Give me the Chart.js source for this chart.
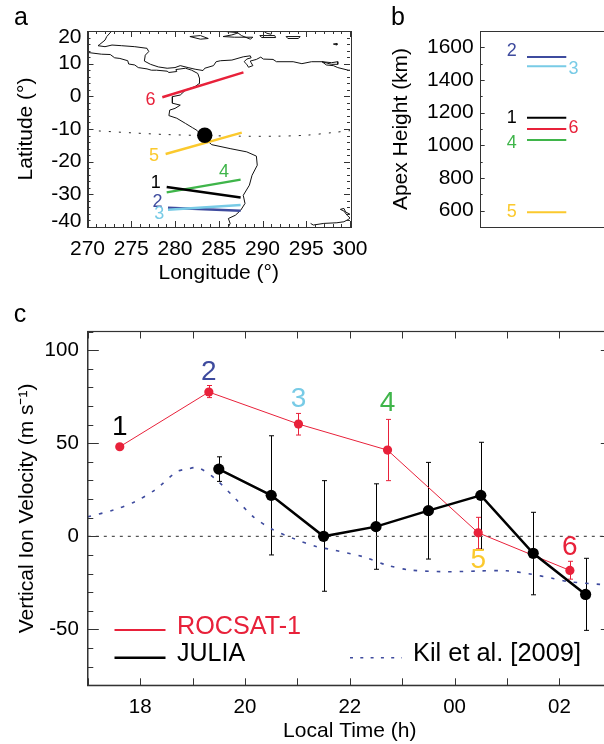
<!DOCTYPE html>
<html>
<head>
<meta charset="utf-8">
<script src="https://cdn.jsdelivr.net/npm/chart.js@4/dist/chart.umd.min.js"></script>
<style>
  html, body { margin: 0; padding: 0; background: #fff; overflow: hidden; width: 604px; height: 744px; }
  canvas { position: absolute; display: block; }
</style>
</head>
<body>
<canvas id="mapChart" width="375" height="290" style="left:0;top:0"></canvas>
<canvas id="apexChart" width="240" height="290" style="left:385px;top:0"></canvas>
<canvas id="velChart" width="640" height="455" style="left:0;top:295px"></canvas>
<script>
// Panel a: coastline as [lon, lat]
const coastPacific = [[270.1,13.4],[271.6,12.9],[272.6,12.8],[273.1,11.8],[273.7,11.6],[274.6,10.9],[274.7,9.9],[275.4,9.6],[275.8,8.8],[276.8,8.4],[277.3,8.0],[277.9,8.0],[279.1,7.7],[279.3,7.3],[280.2,7.6],[280.1,8.2],[281.2,8.6],[281.9,8.0],[282.6,7.0],[282.8,5.5],[282.8,4.0],[282.3,3.0],[281.2,1.9],[280.6,0.4],[279.7,-0.1],[279.7,-2.1],[280.6,-2.7],[280.0,-3.7],[279.4,-4.2],[279.3,-5.9],[280.2,-6.7],[281.2,-8.3],[282.0,-9.6],[282.5,-10.4],[283.4,-12.9],[284.2,-14.8],[286.3,-16.0],[288.2,-17.0],[289.3,-18.3],[289.4,-21.1],[288.8,-24.2],[288.5,-27.2],[287.8,-30.3],[288.0,-32.8],[287.5,-34.9],[286.9,-36.4],[286.1,-37.4],[286.3,-38.9],[286.1,-40]];
const coastCaribbean = [[272.7,19.8],[272.2,18.3],[272.0,17.2],[271.4,15.9],[271.2,15.5],[272.0,15.2],[272.8,15.7],[273.9,15.5],[275.4,15.2],[276.8,14.7],[277.0,13.7],[276.6,12.6],[276.5,10.8],[277.2,9.8],[278.1,9.0],[279.1,8.6],[280.0,8.8],[280.6,9.4],[281.5,8.8],[282.3,8.3],[283.2,7.9],[283.4,8.6],[284.4,9.4],[284.7,10.6],[285.2,10.9],[286.5,11.1],[287.8,12.1],[288.6,12.4],[288.7,11.8],[288.2,11.4],[287.9,10.6],[288.2,9.8],[288.4,8.9],[288.9,9.4],[288.7,10.3],[288.6,10.8],[289.3,11.3],[289.8,12.0],[290.1,11.4],[291.2,11.3],[291.6,10.6],[293.5,10.6],[294.5,10.0],[295.6,10.6],[296.8,10.6],[297.3,9.6],[298.1,9.4],[298.6,8.8],[299.8,8.0],[300,8.0]];
const coastSouth = [[295.5,-38.9],[295.8,-39.4],[297,-38.9],[298.5,-38.7],[299.3,-38.4],[299.8,-37.7],[300,-37.2]];
const coastInlet = [[300,-36.1],[299.5,-35.4],[299.3,-34.3],[298.9,-34.6],[299.3,-35.1],[299.7,-36.5],[300,-37.2]];
const islands = [
  [[281.7,18.3],[282.9,18.6],[283.8,17.7],[282.9,17.5],[281.7,18.3]],
  [[285.5,18.3],[286.5,18.8],[287.2,19.4],[287.6,18.6],[288.6,17.5],[288.9,18.1],[286.8,18.1],[285.5,18.3]],
  [[289.7,18.6],[291.4,18.6],[291.5,18.0],[289.9,18.0],[289.7,18.6]],
  [[285.9,19.8],[287.2,19.5]],
  [[288.9,20],[290.1,20],[290.5,19.3],[291,19.0]],
  [[292.7,18.3],[294.3,18.3],[294.1,17.7],[292.9,17.7],[292.7,18.3]],
  [[298.1,16],[298.5,16.2],[298.5,15.7],[298.1,16]],
  [[296.8,10.6],[297.9,10.3],[298.6,10.6],[298.6,9.8],[297.9,9.8],[296.8,10.6]]
];
const dipEquator = [[271.3,-10.6],[275.2,-11.2],[279,-11.7],[283.3,-12.0],[287.4,-12.2],[291.6,-12.2],[295,-11.9],[298,-11.1],[300,-10.5]];
const julia = [283.4, -11.9];

// Field line segments 1..6
const orbitLabels = ["1", "2", "3", "4", "5", "6"];
const segLonStart = [279.05, 279.2, 279.2, 279.05, 278.93, 278.55];
const segLonEnd = [287.5, 287.5, 287.5, 287.5, 287.63, 287.82];
const segLatStart = [-27.75, -34.1, -34.7, -29.4, -17.65, -0.3];
const segLatEnd = [-31.0, -35.0, -33.3, -25.5, -11.1, 7.35];

// Panel b
const apexHeights = [1169, 1541, 1484, 1032, 590, 1100];
const apexTicks = [600, 800, 1000, 1200, 1400, 1600];

// Panel c
const rocsatTime = [17.61, 19.31, 21.02, 22.72, 24.45, 26.2];
const rocsatVel = [48.1, 77.5, 60.3, 46.3, 1.9, -18.3];
const rocsatHi = [48.1, 81, 66, 62.8, 10.2, -13.4];
const rocsatLo = [48.1, 74.5, 54.4, 29.9, -6.7, -23];
const juliaTime = [19.5, 20.5, 21.5, 22.5, 23.5, 24.5, 25.5, 26.5];
const juliaVel = [36.1, 22, 0, 5.2, 13.8, 22, -9.1, -31.2];
const juliaHi = [42.7, 54, 29.9, 28.2, 39.7, 50.5, 12.9, -11.8];
const juliaLo = [29.5, -10, -29.5, -17.7, -12.2, -7, -31.4, -50.5];
const kilTime = [17, 17.49, 17.9, 18.28, 18.7, 18.89, 19.11, 19.46, 19.81, 20.16, 20.51, 20.92, 21.37, 21.59, 22.26, 22.7, 23.15, 23.85, 24.48, 24.99, 25.44, 25.88, 26.2, 26.77, 27];
const kilVel = [10.5, 14.1, 18.6, 24.9, 34.7, 36.1, 36.8, 30.2, 20.4, 10.5, 3.9, -1.1, -5.6, -6.8, -11, -15.4, -18.1, -19, -18.6, -18.5, -20.2, -22.6, -24.4, -25.8, -26];
const hourLabels = { 18: "18", 20: "20", 22: "22", 24: "00", 26: "02" };
const velTicks = [-50, 0, 50, 100];

const FONT = "'Liberation Sans', Arial, sans-serif";
const RED = "#e8213a", NAVY = "#3e4b9e", SKY = "#78cbe6", GREEN = "#3fb54a", GOLD = "#fbc92d";
const orbitColors = ["#000000", NAVY, SKY, GREEN, GOLD, RED];
const AXIS = "#333333";

const toXY = pts => pts.map(p => ({ x: p[0], y: p[1] }));
const range = (a, b, step) => { const out = []; for (let v = a; v <= b; v += step) out.push(v); return out; };

// Number placement next to the marks, in each panel's data units
const mapNumLon = [277.8, 278, 278.2, 285.6, 277.6, 277.2];
const mapNumLat = [-26.4, -32.3, -36.1, -23.2, -18.3, -1.2];
const apexNumX = [2.21, 2.21, 6.61, 2.21, 2.21, 6.61];
const apexNumY = [1165, 1579, 1467, 1014, 590, 1105];
const velNumX = [17.61, 19.31, 21.02, 22.72, 24.45, 26.2];
const velNumY = [58.5, 87.9, 73.6, 71.4, -12.7, -5.9];

function text(ctx, str, x, y, size, color, align) {
  ctx.save();
  ctx.font = size + "px " + FONT;
  ctx.fillStyle = color || "#000";
  ctx.textAlign = align || "center";
  ctx.textBaseline = "middle";
  ctx.fillText(str, x, y);
  ctx.restore();
}

// Tick marks point inward, so they are stroked here from the scales
function innerTicks(chart, axis, values, len, sides) {
  const ctx = chart.ctx, area = chart.chartArea, scale = chart.scales[axis];
  ctx.save();
  ctx.strokeStyle = AXIS;
  ctx.lineWidth = 1;
  ctx.beginPath();
  values.forEach(v => {
    const p = Math.round(scale.getPixelForValue(v)) + 0.5;
    sides.forEach(side => {
      if (side === "bottom") { ctx.moveTo(p, area.bottom); ctx.lineTo(p, area.bottom - len); }
      if (side === "top") { ctx.moveTo(p, area.top); ctx.lineTo(p, area.top + len); }
      if (side === "left") { ctx.moveTo(area.left, p); ctx.lineTo(area.left + len, p); }
      if (side === "right") { ctx.moveTo(area.right, p); ctx.lineTo(area.right - len, p); }
    });
  });
  ctx.stroke();
  ctx.restore();
}

function errorBars(chart, times, hi, lo, color) {
  const ctx = chart.ctx, sx = chart.scales.x, sy = chart.scales.y;
  ctx.save();
  ctx.strokeStyle = color;
  ctx.lineWidth = 1;
  ctx.beginPath();
  times.forEach((t, i) => {
    if (hi[i] === lo[i]) return;
    const x = Math.round(sx.getPixelForValue(t)) + 0.5;
    const top = sy.getPixelForValue(hi[i]), bot = sy.getPixelForValue(lo[i]);
    ctx.moveTo(x, top); ctx.lineTo(x, bot);
    ctx.moveTo(x - 2.5, top); ctx.lineTo(x + 2.5, top);
    ctx.moveTo(x - 2.5, bot); ctx.lineTo(x + 2.5, bot);
  });
  ctx.stroke();
  ctx.restore();
}

const thin = { display: false };

// ---- Panel a
const mapSets = [];
mapSets.push({ data: [{ x: julia[0], y: julia[1] }], showLine: false, pointRadius: 7.7, pointBackgroundColor: "#000", pointBorderWidth: 0 });
[5, 4, 0, 3, 2, 1].forEach(i => {
  mapSets.push({
    data: [{ x: segLonStart[i], y: segLatStart[i] }, { x: segLonEnd[i], y: segLatEnd[i] }],
    borderColor: orbitColors[i], borderWidth: 2.5, pointRadius: 0
  });
});
mapSets.push({ data: toXY(dipEquator), borderColor: "#222", borderWidth: 1, borderDash: [2, 8], pointRadius: 0, tension: 0.3 });
[coastPacific, coastCaribbean, coastSouth, coastInlet].concat(islands).forEach(line => {
  mapSets.push({ data: toXY(line), borderColor: "#111", borderWidth: 1, pointRadius: 0 });
});

new Chart(document.getElementById("mapChart"), {
  type: "scatter",
  data: { datasets: mapSets.map(d => Object.assign({ showLine: true }, d)) },
  options: {
    responsive: false,
    animation: false,
    layout: { padding: { top: 31, right: 25 } },
    plugins: { legend: thin, tooltip: { enabled: false } },
    scales: {
      x: {
        type: "linear", min: 270, max: 300,
        grid: { display: false },
        border: { color: AXIS, width: 1 },
        ticks: { stepSize: 5, maxRotation: 0, padding: 2, color: "#000", font: { size: 21, family: FONT } },
        title: { display: true, text: "Longitude (°)", color: "#000", padding: 4.2, font: { size: 21, family: FONT } },
        afterFit: s => { s.height = 63; }
      },
      y: {
        type: "linear", min: -40, max: 20,
        grid: { display: false },
        border: { color: AXIS, width: 1 },
        ticks: { stepSize: 10, display: false },
        title: { display: true, text: "Latitude (°)", color: "#000", padding: 13.4, font: { size: 21, family: FONT } },
        afterFit: s => { s.width = 87.5; }
      }
    }
  },
  plugins: [{
    id: "mapExtras",
    afterDraw(chart) {
      const ctx = chart.ctx, a = chart.chartArea, sx = chart.scales.x, sy = chart.scales.y;
      ctx.save();
      ctx.strokeStyle = AXIS;
      ctx.lineWidth = 1;
      ctx.strokeRect(Math.round(a.left) + 0.5, Math.round(a.top) + 0.5, Math.round(a.right - a.left), Math.round(a.bottom - a.top));
      ctx.restore();
      innerTicks(chart, "x", range(270, 300, 1), 3, ["top", "bottom"]);
      innerTicks(chart, "x", range(270, 300, 5), 6, ["top", "bottom"]);
      innerTicks(chart, "y", range(-40, 20, 2), 3, ["left", "right"]);
      innerTicks(chart, "y", range(-40, 20, 10), 6, ["left", "right"]);
      // end labels sit inside the frame height, as in the original axis
      range(-40, 20, 10).forEach(v => {
        const nudge = v === 20 ? 6 : v === -40 ? -6 : 0;
        text(ctx, String(v), a.left - 6, sy.getPixelForValue(v) + nudge, 21, "#000", "right");
      });
      orbitLabels.forEach((n, i) => {
        text(ctx, n, sx.getPixelForValue(mapNumLon[i]), sy.getPixelForValue(mapNumLat[i]), 18, orbitColors[i]);
      });
      text(ctx, "a", 21, 18, 25, "#000");
    }
  }]
});

// ---- Panel b
new Chart(document.getElementById("apexChart"), {
  type: "scatter",
  data: {
    datasets: apexHeights.map((h, i) => ({
      showLine: true,
      data: [{ x: 3.3, y: h }, { x: 6.1, y: h }],
      borderColor: orbitColors[i], borderWidth: 2, pointRadius: 0
    }))
  },
  options: {
    responsive: false,
    animation: false,
    layout: { padding: { top: 31, right: 4 } },
    plugins: { legend: thin, tooltip: { enabled: false } },
    scales: {
      x: {
        type: "linear", min: 0, max: 10,
        grid: { display: false },
        border: { color: AXIS, width: 1 },
        ticks: { display: false },
        afterFit: s => { s.height = 63; }
      },
      y: {
        type: "linear", min: 500, max: 1700,
        grid: { display: false },
        border: { color: AXIS, width: 1 },
        afterBuildTicks: s => { s.ticks = apexTicks.map(v => ({ value: v })); },
        ticks: { padding: -1, color: "#000", font: { size: 21, family: FONT }, callback: v => String(v) },
        title: { display: true, text: "Apex Height (km)", color: "#000", padding: 4, font: { size: 21, family: FONT } },
        afterFit: s => { s.width = 95.7; }
      }
    }
  },
  plugins: [{
    id: "apexExtras",
    afterDraw(chart) {
      const ctx = chart.ctx, a = chart.chartArea, sx = chart.scales.x, sy = chart.scales.y;
      ctx.save();
      ctx.strokeStyle = AXIS;
      ctx.lineWidth = 1;
      ctx.beginPath();
      ctx.moveTo(a.left, Math.round(a.top) + 0.5);
      ctx.lineTo(a.right, Math.round(a.top) + 0.5);
      ctx.stroke();
      ctx.restore();
      innerTicks(chart, "y", range(500, 1700, 100), 2, ["left"]);
      innerTicks(chart, "y", apexTicks, 4, ["left"]);
      orbitLabels.forEach((n, i) => {
        text(ctx, n, sx.getPixelForValue(apexNumX[i]), sy.getPixelForValue(apexNumY[i]), 18, orbitColors[i]);
      });
      text(ctx, "b", 13, 18, 25, "#000");
    }
  }]
});

// ---- Panel c
new Chart(document.getElementById("velChart"), {
  type: "scatter",
  data: {
    datasets: [
      { label: "JULIA", showLine: true, data: juliaTime.map((t, i) => ({ x: t, y: juliaVel[i] })), borderColor: "#000", borderWidth: 2.5, pointRadius: 5.6, pointBackgroundColor: "#000", pointBorderWidth: 0 },
      { label: "ROCSAT-1", showLine: true, data: rocsatTime.map((t, i) => ({ x: t, y: rocsatVel[i] })), borderColor: RED, borderWidth: 1, pointRadius: 4.6, pointBackgroundColor: RED, pointBorderWidth: 0 },
      { label: "Kil et al. [2009]", showLine: true, data: kilTime.map((t, i) => ({ x: t, y: kilVel[i] })), borderColor: NAVY, borderWidth: 1.6, borderDash: [3.5, 8], pointRadius: 0, tension: 0.3 },
      { label: "zero", showLine: true, data: [{ x: 17, y: 0 }, { x: 27, y: 0 }], borderColor: "#555", borderWidth: 1.2, borderDash: [3, 5], pointRadius: 0 }
    ]
  },
  options: {
    responsive: false,
    animation: false,
    layout: { padding: { top: 36.5, right: 28.2 } },
    plugins: { legend: thin, tooltip: { enabled: false } },
    scales: {
      x: {
        type: "linear", min: 17, max: 27,
        grid: { display: false },
        border: { color: AXIS, width: 1.2 },
        afterBuildTicks: s => { s.ticks = range(17, 27, 1).map(v => ({ value: v })); },
        ticks: {
          autoSkip: false, maxRotation: 0, padding: 2, color: "#000",
          font: { size: 20.5, family: FONT },
          callback: v => hourLabels[v] || ""
        },
        title: { display: true, text: "Local Time (h)", color: "#000", padding: 6.4, font: { size: 21, family: FONT } },
        afterFit: s => { s.height = 64.7; }
      },
      y: {
        type: "linear", min: -80, max: 110,
        grid: { display: false },
        border: { color: AXIS, width: 1.2 },
        afterBuildTicks: s => { s.ticks = velTicks.map(v => ({ value: v })); },
        ticks: { padding: 1, color: "#000", font: { size: 20.5, family: FONT } },
        title: { display: true, text: "Vertical Ion Velocity (m s⁻¹)", color: "#000", padding: 14.4, font: { size: 21, family: FONT } },
        afterFit: s => { s.width = 87.8; }
      }
    }
  },
  plugins: [{
    id: "velExtras",
    beforeDatasetsDraw(chart) {
      errorBars(chart, juliaTime, juliaHi, juliaLo, "#000");
      errorBars(chart, rocsatTime, rocsatHi, rocsatLo, RED);
    },
    afterDraw(chart) {
      const ctx = chart.ctx, a = chart.chartArea, sx = chart.scales.x, sy = chart.scales.y;
      ctx.save();
      ctx.strokeStyle = AXIS;
      ctx.lineWidth = 1.2;
      ctx.strokeRect(a.left, a.top, a.right - a.left, a.bottom - a.top);
      ctx.restore();
      innerTicks(chart, "x", range(17, 27, 1), 7, ["top", "bottom"]);
      innerTicks(chart, "y", range(-80, 110, 10), 5.5, ["left"]);
      innerTicks(chart, "y", velTicks, 11, ["left", "right"]);
      orbitLabels.forEach((n, i) => {
        text(ctx, n, sx.getPixelForValue(velNumX[i]), sy.getPixelForValue(velNumY[i]), 28, orbitColors[i]);
      });
      text(ctx, "c", 20, 20, 25, "#000");

      // legend
      ctx.save();
      ctx.lineWidth = 2;
      ctx.strokeStyle = RED;
      ctx.beginPath(); ctx.moveTo(114.5, 335); ctx.lineTo(165.5, 335); ctx.stroke();
      ctx.lineWidth = 2.5;
      ctx.strokeStyle = "#000";
      ctx.beginPath(); ctx.moveTo(114.5, 362.7); ctx.lineTo(165.5, 362.7); ctx.stroke();
      ctx.lineWidth = 1.6;
      ctx.strokeStyle = NAVY;
      ctx.setLineDash([3, 7.3]);
      ctx.beginPath(); ctx.moveTo(350, 362.7); ctx.lineTo(402, 362.7); ctx.stroke();
      ctx.restore();
      text(ctx, "ROCSAT-1", 177, 331.7, 25.2, RED, "left");
      text(ctx, "JULIA", 177, 359.3, 25, "#000", "left");
      text(ctx, "Kil et al. [2009]", 413, 359.3, 25.4, "#000", "left");
    }
  }]
});
</script>
</body>
</html>
